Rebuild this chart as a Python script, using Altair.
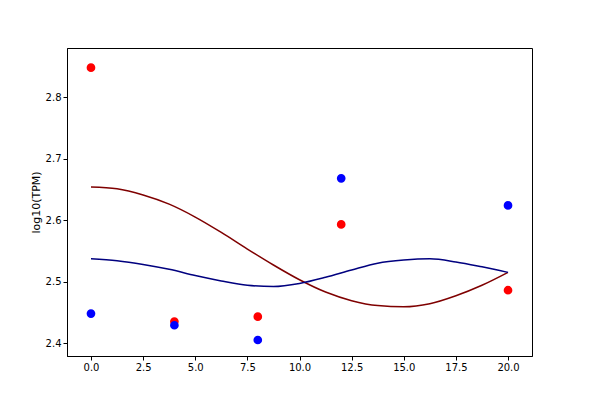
import altair as alt
import pandas as pd

t_pts = [0, 4, 8, 12, 20]
data20 = [2.848, 2.435, 2.443, 2.593, 2.486]
data250 = [2.448, 2.429, 2.405, 2.668, 2.624]

t_fit = [0, 1.25, 2.5, 3.75, 5, 6.25, 7.5, 8.75, 10, 11.25, 12.5, 13.75, 15, 16.25, 17.5, 18.75, 20]
fit20 = [2.654, 2.651, 2.641, 2.626, 2.605, 2.580, 2.553, 2.527, 2.503, 2.483, 2.469, 2.461, 2.459, 2.464, 2.477, 2.494, 2.515]
fit250 = [2.537, 2.534, 2.528, 2.520, 2.510, 2.501, 2.494, 2.492, 2.497, 2.507, 2.519, 2.530, 2.535, 2.537, 2.532, 2.524, 2.515]

labels = ["Fitted function 20", "Fitted function 250", "data20", "data250"]
colors = ["#7f0000", "#00007f", "#ff0000", "#0000ff"]

lines = pd.DataFrame(
    [{"t": t, "v": v, "s": labels[0]} for t, v in zip(t_fit, fit20)]
    + [{"t": t, "v": v, "s": labels[1]} for t, v in zip(t_fit, fit250)]
)
pts = pd.DataFrame(
    [{"t": t, "v": v, "s": labels[2]} for t, v in zip(t_pts, data20)]
    + [{"t": t, "v": v, "s": labels[3]} for t, v in zip(t_pts, data250)]
)

xs = alt.Scale(domain=[-1.15, 21.15], nice=False, zero=False)
ys = alt.Scale(domain=[2.379, 2.880], nice=False, zero=False)
cs = alt.Scale(domain=labels, range=colors)
ax = dict(grid=False, labelFontSize=10, tickSize=4, domainColor="black", tickColor="black", labelColor="black")

x = alt.X("t:Q", scale=xs, axis=alt.Axis(values=[0, 2.5, 5, 7.5, 10, 12.5, 15, 17.5, 20], format=".1f", title=None, **ax))
y = alt.Y("v:Q", scale=ys, axis=alt.Axis(values=[2.4, 2.5, 2.6, 2.7, 2.8], format=".1f", title="log10(TPM)", titleFontSize=11, titleFontWeight="normal", **ax))

l = alt.Chart(lines).mark_line(strokeWidth=1.5, interpolate="monotone").encode(
    x=x, y=y, color=alt.Color("s:N", scale=cs, legend=None), detail="s:N")

leg = alt.Legend(title=None, orient="top-right", labelFontSize=7, symbolSize=40,
                 strokeColor="#ccc", padding=4, fillColor="white", rowPadding=1, symbolStrokeWidth=2, offset=3)
p = alt.Chart(pts).mark_point(filled=True, size=45, opacity=1).encode(
    x=x, y=y,
    fill=alt.Fill("s:N", scale=cs, legend=leg),
    stroke=alt.Stroke("s:N", scale=cs, legend=leg),
    shape=alt.Shape("s:N", scale=alt.Scale(domain=labels, range=["stroke", "stroke", "circle", "circle"]), legend=leg),
)

chart = (l + p).properties(width=465, height=308, padding={"left": 22, "top": 40, "right": 5, "bottom": 5}
                           ).configure_view(stroke="black", strokeWidth=1).configure_axis(labelFont="DejaVu Sans", titleFont="DejaVu Sans").configure_legend(labelFont="DejaVu Sans")
chart.save("out.html", embed_options={"renderer": "svg", "actions": False})
